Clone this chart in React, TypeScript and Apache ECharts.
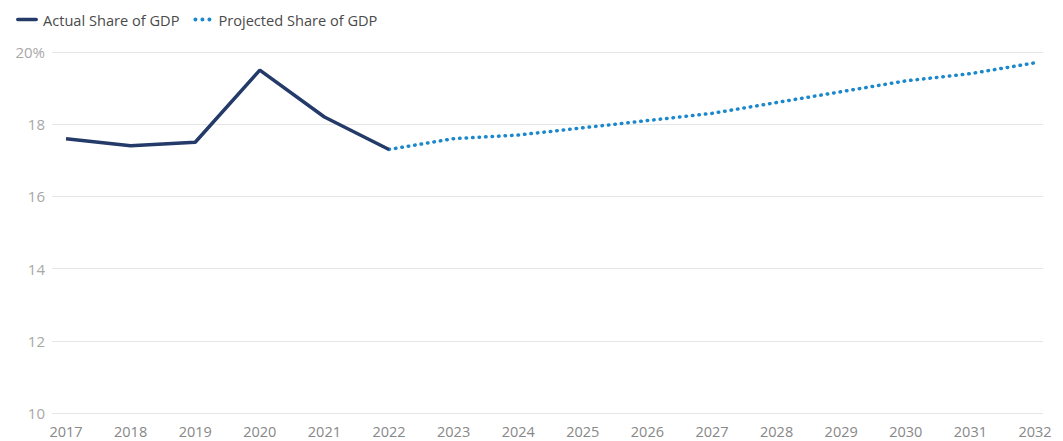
import React, { useEffect, useRef } from "react";
import * as echarts from "echarts";

const years = [2017, 2018, 2019, 2020, 2021, 2022, 2023, 2024, 2025, 2026, 2027, 2028, 2029, 2030, 2031, 2032];
const actualYears = [2017, 2018, 2019, 2020, 2021, 2022];
const actualValues = [17.6, 17.4, 17.5, 19.5, 18.2, 17.3];
const projectedYears = [2022, 2023, 2024, 2025, 2026, 2027, 2028, 2029, 2030, 2031, 2032];
const projectedValues = [17.3, 17.6, 17.7, 17.9, 18.1, 18.3, 18.6, 18.9, 19.2, 19.4, 19.7];
const yTicks = [10, 12, 14, 16, 18, 20];

const ACTUAL_COLOR = "#243a69";
const PROJ_COLOR = "#1b87cc";

export default function App() {
  const ref = useRef<HTMLDivElement>(null);
  useEffect(() => {
    if (!ref.current) return;
    const chart = echarts.init(ref.current, undefined, { renderer: "svg" });
    const font = "'Open Sans', Lato, sans-serif";
    chart.setOption({
      animation: false,
      textStyle: { fontFamily: font },
      legend: {
        left: 11,
        top: 7,
        itemWidth: 22,
        itemHeight: 4,
        itemGap: 14,
        textStyle: { color: "#4a4a4a", fontSize: 14.6, fontFamily: font },
        data: [
          { name: "Actual Share of GDP", icon: "path://M1,0H21A1,1 0 0 1 21,4H1A1,1 0 0 1 1,0Z" },
          {
            name: "Projected Share of GDP",
            icon:
              "path://M0,2a2,2 0 1,0 4,0a2,2 0 1,0 -4,0ZM7,2a2,2 0 1,0 4,0a2,2 0 1,0 -4,0ZM14,2a2,2 0 1,0 4,0a2,2 0 1,0 -4,0Z",
          },
        ],
      },
      grid: { left: 52, right: 20, top: 52, bottom: 28, containLabel: false },
      xAxis: {
        type: "value",
        min: 2016.783,
        max: 2032.124,
        splitLine: { show: false },
        axisLine: { show: false },
        axisTick: { show: false },
        axisLabel: {
          customValues: years,
          formatter: (v: number) => String(v),
          color: "#888",
          fontSize: 14.5,
          margin: 11,
          fontFamily: font,
        },
      },
      yAxis: {
        type: "value",
        min: 10,
        max: 20,
        interval: 2,
        axisLine: { show: false },
        axisTick: { show: false },
        splitLine: { lineStyle: { color: "#e6e6e6", width: 1 } },
        axisLabel: {
          customValues: yTicks,
          formatter: (v: number) => (v === 20 ? "20%" : String(v)),
          color: "#a8a8a8",
          fontSize: 15,
          margin: 7,
          fontFamily: font,
        },
      },
      series: [
        {
          name: "Actual Share of GDP",
          type: "line",
          symbol: "none",
          data: actualYears.map((y, i) => [y, actualValues[i]]),
          lineStyle: { color: ACTUAL_COLOR, width: 3.5 },
          itemStyle: { color: ACTUAL_COLOR },
          z: 3,
        },
        {
          name: "Projected Share of GDP",
          type: "line",
          symbol: "none",
          data: projectedYears.map((y, i) => [y, projectedValues[i]]),
          lineStyle: { color: PROJ_COLOR, width: 3.5, type: [0.5, 6], cap: "round" },
          itemStyle: { color: PROJ_COLOR },
          z: 2,
        },
      ],
    });
    return () => chart.dispose();
  }, []);
  return (
    <div
      ref={ref}
      style={{ position: "fixed", left: 0, top: 0, width: 1063, height: 441, background: "#fff" }}
    />
  );
}
